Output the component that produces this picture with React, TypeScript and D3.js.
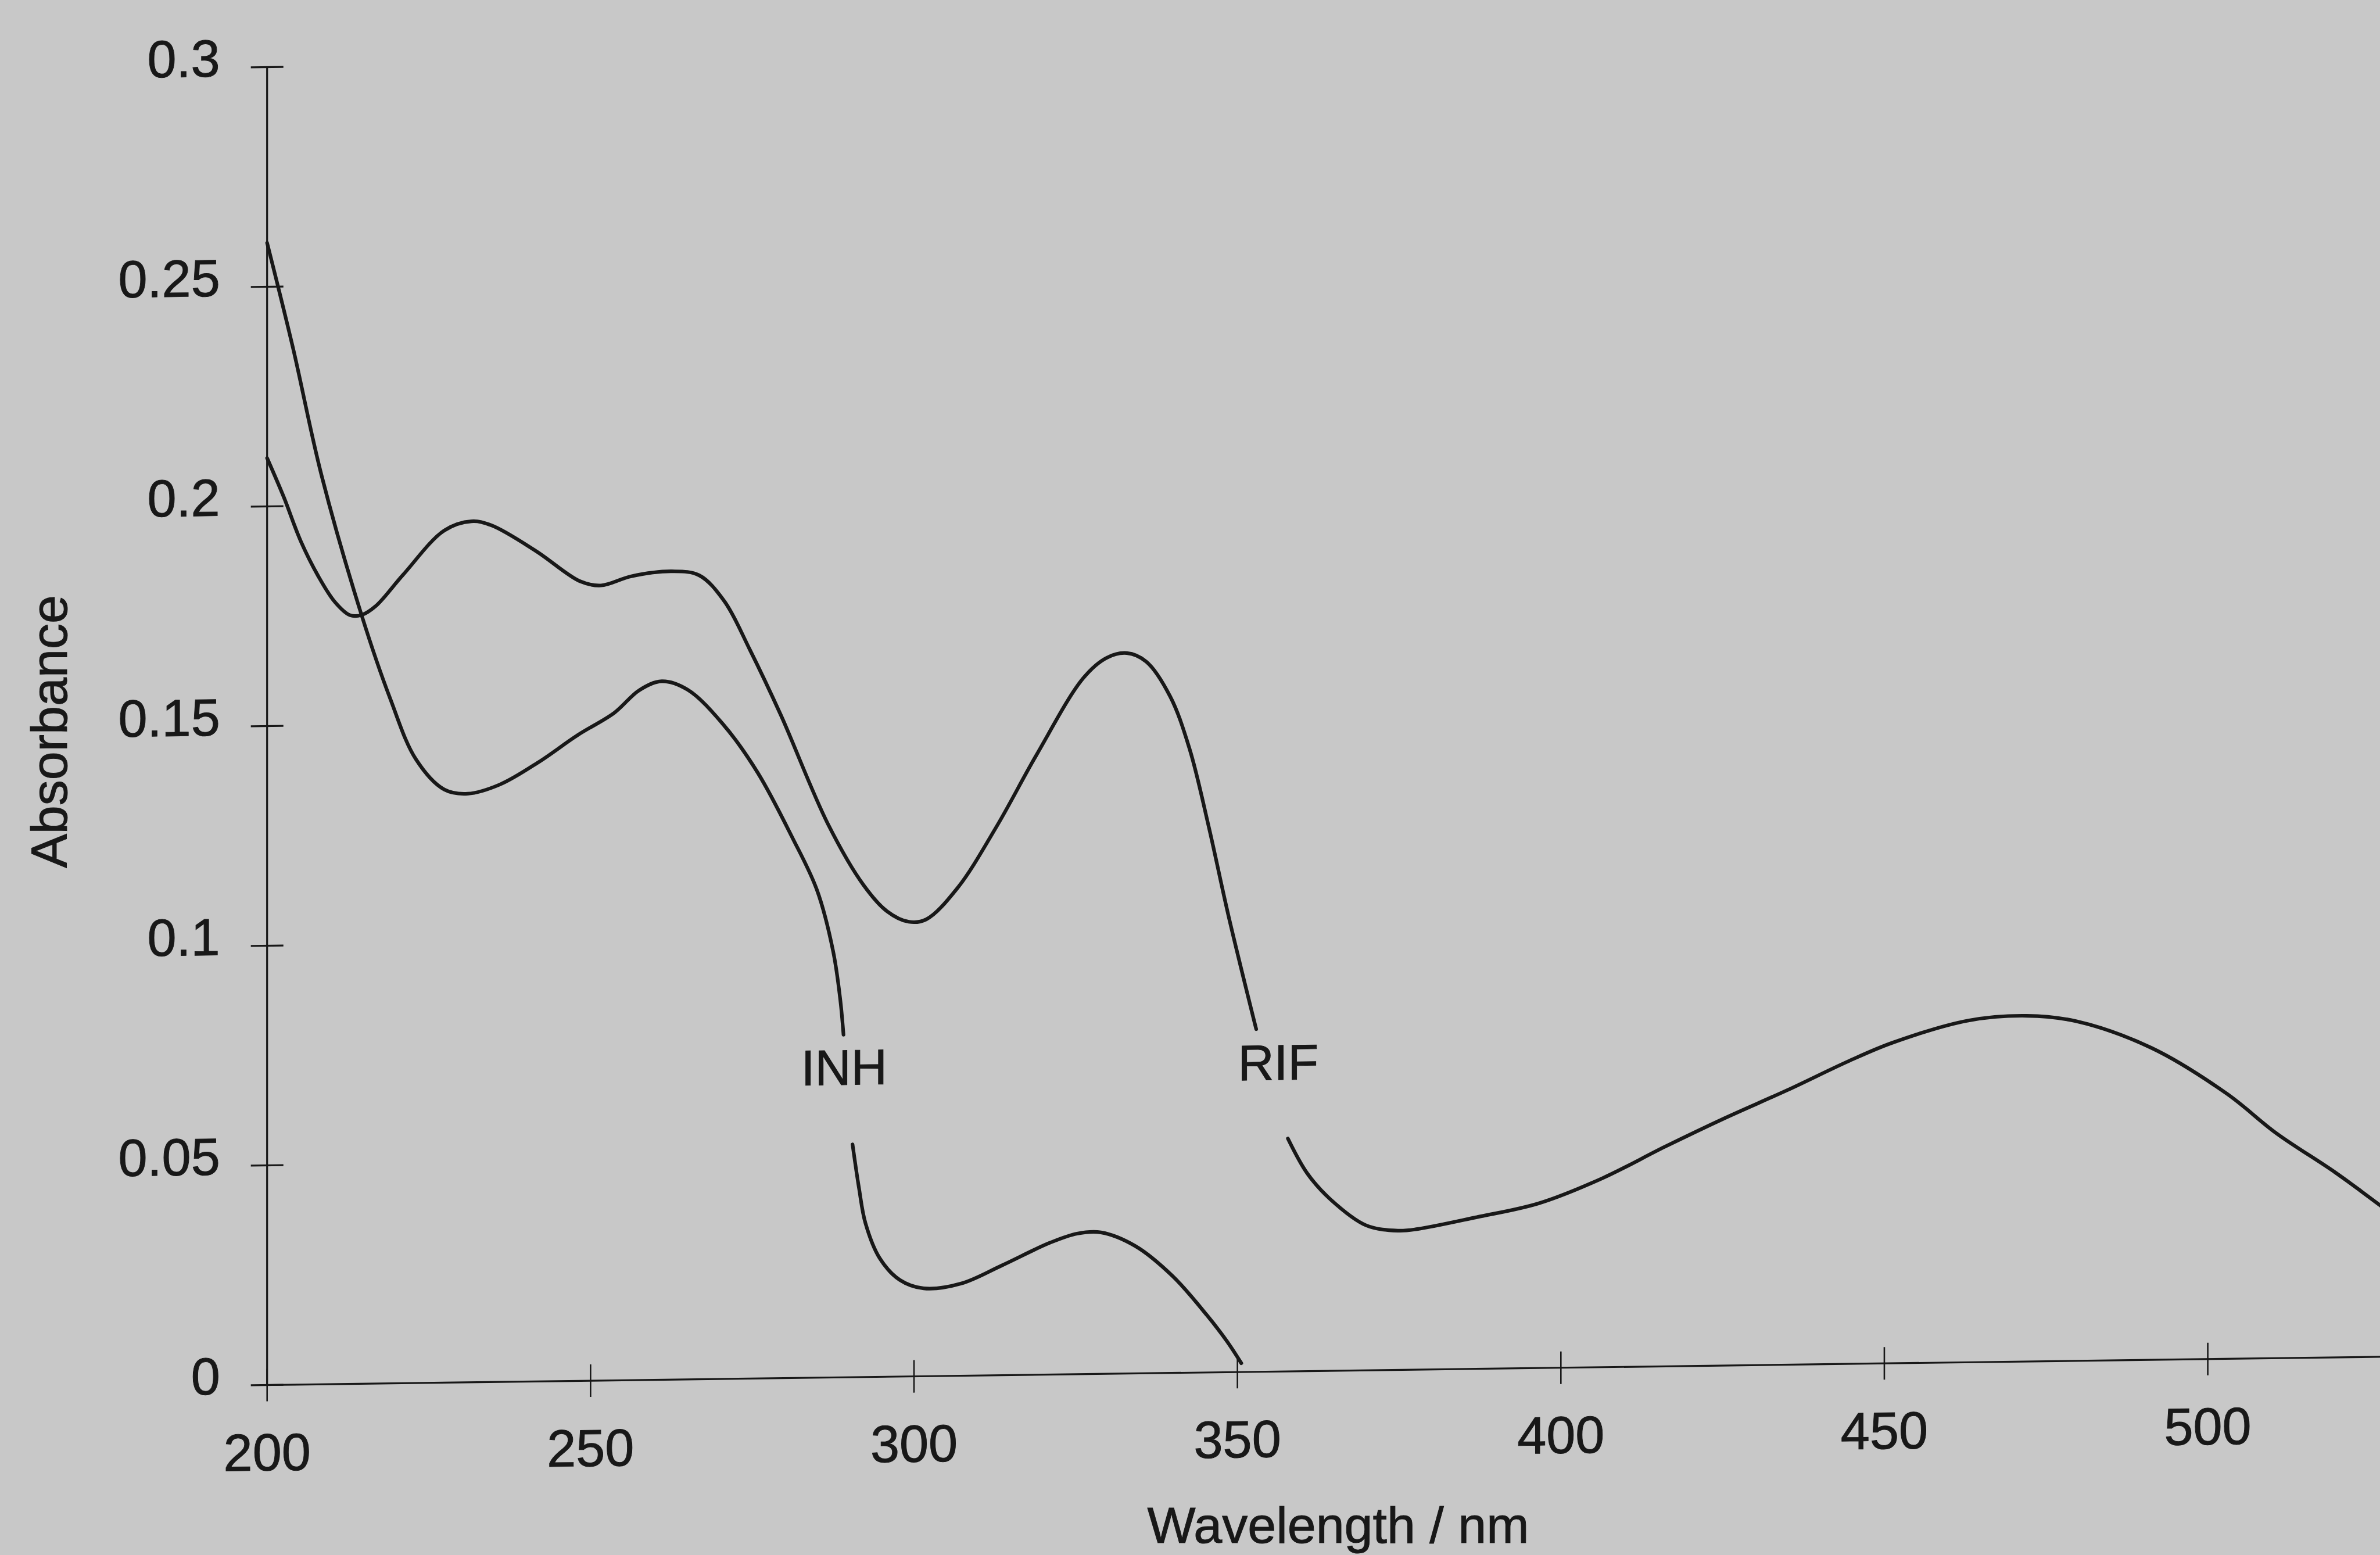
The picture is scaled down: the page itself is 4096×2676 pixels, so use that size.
import React from "react";
import * as d3 from "d3";

// UV-Vis absorption spectra of isoniazid (INH) and rifampicin (RIF)
// Each curve is split where its label interrupts the trace.

const inhUpper: [number, number][] = [
  [200, 0.26], [204, 0.236], [208.4, 0.207], [214.6, 0.175], [219, 0.156],
  [223, 0.142], [227.4, 0.135], [231, 0.134], [236, 0.136], [242, 0.141],
  [248, 0.147], [253.7, 0.152], [257.5, 0.157], [261, 0.159], [265, 0.157],
  [270.5, 0.149], [275.8, 0.138], [281.2, 0.123], [285, 0.111], [287.5, 0.097],
  [288.6, 0.086], [289.1, 0.078],
];

const inhLower: [number, number][] = [
  [290.5, 0.053], [291.5, 0.043], [292.5, 0.035], [294.7, 0.027], [297.8, 0.022],
  [301.5, 0.02], [307.3, 0.021], [313.6, 0.025], [321, 0.03], [325.2, 0.032],
  [328.9, 0.0322], [334.2, 0.029], [340, 0.022], [345.3, 0.013], [348.4, 0.007],
  [350.6, 0.002],
];

const rifUpper: [number, number][] = [
  [200, 0.211], [202.6, 0.202], [205.2, 0.192], [207.9, 0.184], [210.5, 0.178],
  [212.8, 0.175], [214.6, 0.175], [216.8, 0.177], [221, 0.184], [227.4, 0.194],
  [231.6, 0.196], [234.7, 0.195], [241.6, 0.189], [248.4, 0.182], [251.6, 0.181],
  [256.3, 0.183], [262.6, 0.184], [266.8, 0.183], [270.7, 0.177], [274.6, 0.166],
  [279.4, 0.151], [286.7, 0.126], [292.2, 0.112], [295.8, 0.106], [299.2, 0.1035],
  [301.9, 0.104], [306.7, 0.111], [312.8, 0.125], [318.9, 0.141], [326.2, 0.1585],
  [329.8, 0.163], [332.9, 0.164], [335.9, 0.162], [339.6, 0.154], [342.6, 0.142],
  [345.6, 0.124], [348.6, 0.104], [352.9, 0.078],
];

const rifLower: [number, number][] = [
  [357.8, 0.053], [360.8, 0.045], [364.4, 0.039], [369.9, 0.033], [374.8, 0.0317],
  [377.8, 0.032], [386.9, 0.0345], [396.6, 0.0375], [406.4, 0.043], [416.1, 0.05],
  [425.3, 0.0563], [435, 0.0625], [444.6, 0.069], [451.3, 0.073], [463, 0.0778],
  [472, 0.0787], [479.7, 0.0773], [491.3, 0.071], [502.9, 0.0604], [510.6, 0.0512],
  [519.7, 0.0421], [526.7, 0.0344],
];

const xTicks = [200, 250, 300, 350, 400, 450, 500];
const yTicks = [0, 0.05, 0.1, 0.15, 0.2, 0.25, 0.3];
const yTickLabels = ["0", "0.05", "0.1", "0.15", "0.2", "0.25", "0.3"];

const curveLabels: { text: string; at: [number, number] }[] = [
  { text: "INH", at: [289.2, 0.0666] },
  { text: "RIF", at: [356.3, 0.0664] },
];

const xTitle = "Wavelength / nm";
const yTitle = "Absorbance";

const W = 4096;
const H = 2676;
const X0 = 459.7;
const Y0 = 2383.5;
const SKEW = -0.766;
const FONT = "'Liberation Sans', Arial, Helvetica, sans-serif";
const INK = "#181818";
const PAPER = "#c8c8c8";

export default function App() {
  const x = d3.scaleLinear().domain([200, 530]).range([X0, X0 + 330 * 11.133]);
  const y = d3.scaleLinear().domain([0, 0.3]).range([Y0, Y0 - 0.3 * 7559.8]);

  const line = d3
    .line<[number, number]>()
    .x((d) => x(d[0]))
    .y((d) => y(d[1]))
    .curve(d3.curveCatmullRom.alpha(0.5));

  const segments = [inhUpper, inhLower, rifUpper, rifLower];
  const tick = 28;
  const textStyle = {
    fontFamily: FONT,
    fill: INK,
    stroke: INK,
    strokeWidth: 1,
  } as const;

  return (
    <svg
      width={W}
      height={H}
      viewBox={`0 0 ${W} ${H}`}
      style={{ position: "fixed", left: 0, top: 0, background: PAPER }}
    >
      <rect x={0} y={0} width={W} height={H} fill={PAPER} />
      <g transform={`translate(${X0},${Y0}) skewY(${SKEW}) translate(${-X0},${-Y0})`}>
        {/* y axis */}
        <line x1={x(200)} x2={x(200)} y1={y(0)} y2={y(0.3)} stroke={INK} strokeWidth={3.2} />
        {yTicks.map((t, i) => (
          <g key={`yt${i}`}>
            <line x1={x(200) - tick} x2={x(200) + tick} y1={y(t)} y2={y(t)} stroke={INK} strokeWidth={3.2} />
            <text x={x(200) - 81} y={y(t) + 15} textAnchor="end" fontSize={90} {...textStyle}>
              {yTickLabels[i]}
            </text>
          </g>
        ))}
        {/* x axis */}
        <line x1={x(200)} x2={x(530)} y1={y(0)} y2={y(0)} stroke={INK} strokeWidth={3.2} />
        {xTicks.map((t) => (
          <g key={`xt${t}`}>
            <line x1={x(t)} x2={x(t)} y1={y(0) - tick} y2={y(0) + tick} stroke={INK} strokeWidth={2.6} />
            <text x={x(t)} y={y(0) + 147} textAnchor="middle" fontSize={90} {...textStyle}>
              {t}
            </text>
          </g>
        ))}
        {/* spectra */}
        {segments.map((s, i) => (
          <path
            key={`s${i}`}
            d={line(s) ?? ""}
            fill="none"
            stroke={INK}
            strokeWidth={6.2}
            strokeLinejoin="round"
            strokeLinecap="round"
          />
        ))}
        {curveLabels.map((l) => (
          <text
            key={l.text}
            x={x(l.at[0])}
            y={y(l.at[1])}
            textAnchor="middle"
            fontSize={86}
            {...textStyle}
          >
            {l.text}
          </text>
        ))}
      </g>
      <text transform="translate(115,1259) rotate(-90)" textAnchor="middle" fontSize={88} {...textStyle}>
        {yTitle}
      </text>
      <text x={2303} y={2655} textAnchor="middle" fontSize={88} {...textStyle}>
        {xTitle}
      </text>
    </svg>
  );
}
